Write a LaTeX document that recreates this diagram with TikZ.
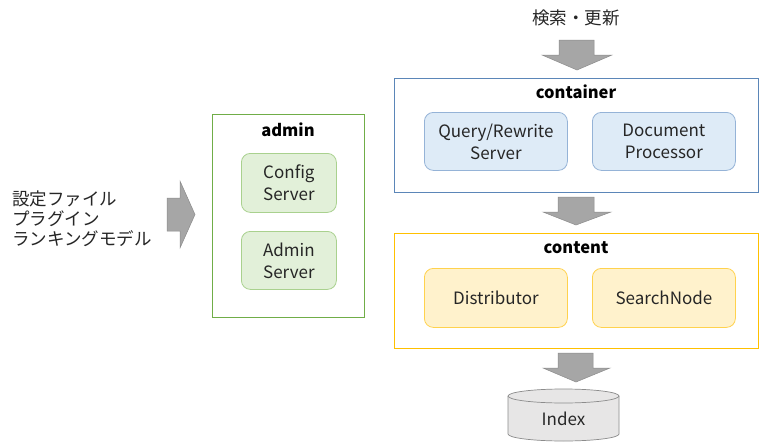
\documentclass[tikz,border=0pt]{standalone}
\usepackage{fontspec}
\setmainfont{Noto Sans CJK JP}
\definecolor{txt}{HTML}{262626}
\definecolor{cborder}{HTML}{5B86B8}
\definecolor{cfill}{HTML}{DEEBF7}
\definecolor{cinner}{HTML}{95B3D7}
\definecolor{aborder}{HTML}{70AD47}
\definecolor{afill}{HTML}{E2F0D9}
\definecolor{ainner}{HTML}{A9D18E}
\definecolor{tborder}{HTML}{FFC000}
\definecolor{tfill}{HTML}{FFF2CC}
\definecolor{tinner}{HTML}{FFD24D}
\definecolor{arrfill}{HTML}{A6A6A6}
\definecolor{arrline}{HTML}{8C8C8C}
\definecolor{cylfill}{HTML}{E7E6E6}
\definecolor{cylline}{HTML}{8C8C8C}
\tikzset{
  group/.style={draw=#1, line width=0.8pt, anchor=north west, inner sep=0pt},
  comp/.style={rounded corners=9pt, line width=0.8pt, anchor=north west, inner sep=0pt,
    align=center, text=txt, font=\fontsize{17}{22}\selectfont},
  ctext/.style={inner sep=0pt, align=center, text=txt, font=\fontsize{17}{22}\selectfont},
  gtitle/.style={font=\fontsize{16.5}{20}\selectfont\bfseries, text=black},
  blockarrow/.style={fill=arrfill, draw=arrline, line width=0.5pt},
  jtext/.style={text=txt, font=\fontsize{17.5}{20}\selectfont}
}
\begin{document}
\begin{tikzpicture}[x=1pt,y=-1pt]
\useasboundingbox[fill=white] (0,0) rectangle (761,442);

% top label and arrow
\node[jtext] (query) at (576,18) {検索・更新};
\draw[blockarrow] (559,40) -- (594,40) -- (594,55) -- (612,55) -- (577,70) -- (542,55) -- (559,55) -- cycle;

% container
\node[group=cborder, minimum width=364pt, minimum height=114pt] (container) at (394,78) {};
\node[gtitle] (containerT) at (576,92) {container};
\node[comp, draw=cinner, fill=cfill, minimum width=143pt, minimum height=58pt] (qr) at (424,112) {Query/Rewrite\\Server};
\node[comp, draw=cinner, fill=cfill, minimum width=143pt, minimum height=58pt] (dp) at (592,112) {Document\\Processor};

% middle arrow
\draw[blockarrow] (558,197) -- (594,197) -- (594,212) -- (611,212) -- (576,225) -- (543,212) -- (558,212) -- cycle;

% content
\node[group=tborder, minimum width=364pt, minimum height=115pt] (content) at (394,233) {};
\node[gtitle] (contentT) at (576,248) {content};
\node[comp, draw=tinner, fill=tfill, minimum width=143pt, minimum height=59pt] (dist) at (424,268) {Distributor};
\node[comp, draw=tinner, fill=tfill, minimum width=143pt, minimum height=59pt] (sn) at (592,268) {SearchNode};

% bottom arrow
\draw[blockarrow] (558,353) -- (593,353) -- (593,368) -- (610,368) -- (576,382) -- (543,368) -- (558,368) -- cycle;

% index cylinder
\fill[cylfill] (508,396) -- (508,434) arc[start angle=180,end angle=360,x radius=55.5pt,y radius=7pt] -- (619,396) arc[start angle=0,end angle=180,x radius=55.5pt,y radius=7pt] -- cycle;
\draw[cylline, line width=0.7pt] (508,396) -- (508,434) arc[start angle=180,end angle=360,x radius=55.5pt,y radius=7pt] -- (619,396);
\draw[cylline, line width=0.7pt, fill=cylfill] (563.5,396) ellipse[x radius=55.5pt, y radius=7pt];
\node[ctext] (index) at (563.5,419) {Index};

% admin
\node[group=aborder, minimum width=152pt, minimum height=203pt] (admin) at (212,114) {};
\node[gtitle] (adminT) at (288,130) {admin};
\node[comp, draw=ainner, fill=afill, minimum width=95pt, minimum height=59pt] (cfg) at (241,153) {Config\\Server};
\node[comp, draw=ainner, fill=afill, minimum width=95pt, minimum height=58pt] (adm) at (241,231) {Admin\\Server};

% left text and arrow
\node[jtext, align=left, anchor=west, inner sep=0pt] (files) at (12,218.5) {設定ファイル\\プラグイン\\ランキングモデル};
\draw[blockarrow] (167,198) -- (180,198) -- (180,181) -- (195,214.5) -- (180,248) -- (180,231) -- (167,231) -- cycle;
\end{tikzpicture}
\end{document}
